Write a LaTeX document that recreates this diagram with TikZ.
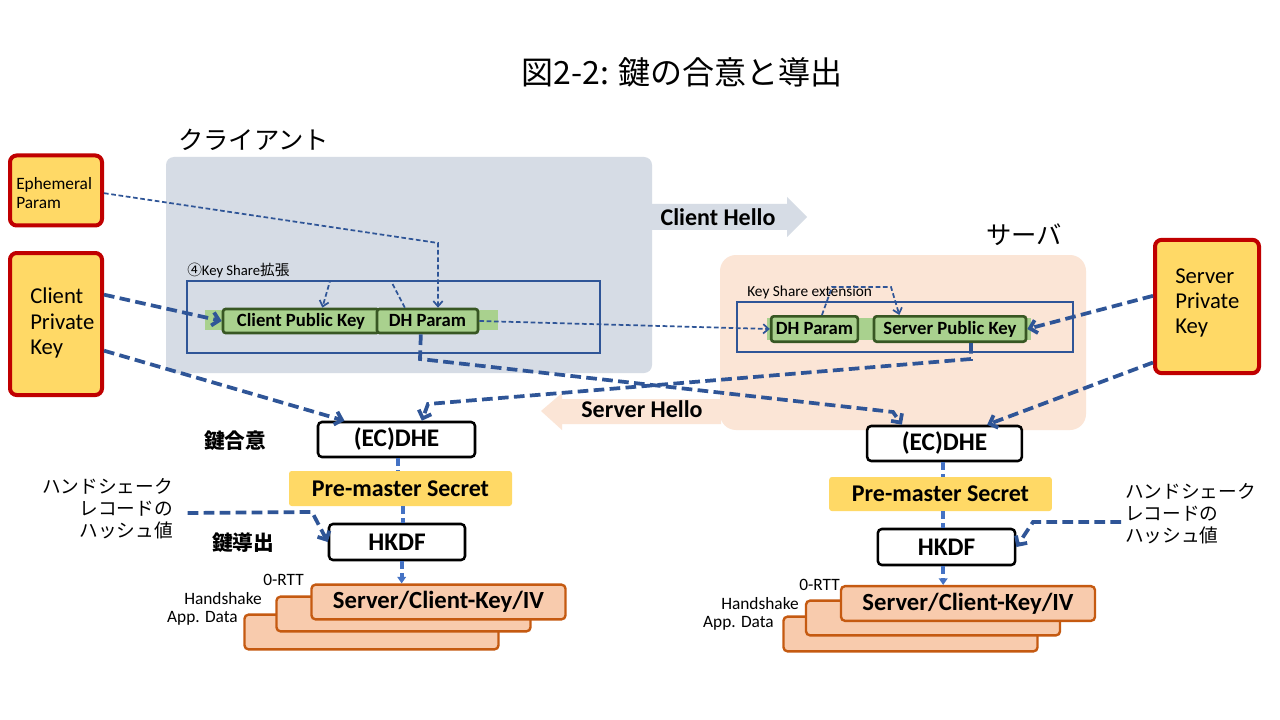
\documentclass[tikz,border=0pt]{standalone}
\usepackage{fontspec}
\setmainfont{Carlito}
\newfontfamily\jp{Noto Sans CJK JP}
\usetikzlibrary{arrows.meta}
\definecolor{kred}{HTML}{C00000}
\definecolor{kyellow}{HTML}{FFD966}
\definecolor{kblue}{HTML}{2F5597}
\definecolor{fblue}{HTML}{4472C4}
\definecolor{cbg}{HTML}{D6DCE5}
\definecolor{sbg}{HTML}{FBE5D6}
\definecolor{glight}{HTML}{A9D18E}
\definecolor{gdark}{HTML}{385723}
\definecolor{korange}{HTML}{C55A11}
\definecolor{kpeach}{HTML}{F8CBAD}
\newcommand{\fs}[2]{\fontsize{#1}{#2}\selectfont}
\tikzset{
  keybox/.style={draw=kred, fill=kyellow, line width=3pt, rounded corners=5pt, inner sep=0pt},
  opbox/.style={draw=black, fill=white, line width=1.9pt, rounded corners=3pt, inner sep=0pt, font=\bfseries\fs{19pt}{22pt}},
  pmsbox/.style={fill=kyellow, rounded corners=2pt, inner sep=0pt, font=\bfseries\fs{18pt}{21pt}},
  ivbox/.style={draw=korange, fill=kpeach, line width=1.8pt, rounded corners=3pt, inner sep=0pt, minimum width=190.5pt, minimum height=26pt, font=\bfseries\fs{18.5pt}{21pt}},
  gbox/.style={draw=gdark, fill=glight, line width=2pt, rounded corners=2pt, inner sep=0pt, font=\bfseries\fs{14pt}{16pt}},
  thickarr/.style={draw=kblue, line width=2.8pt, dash pattern=on 8pt off 4pt, -{Straight Barb[length=5pt,width=10pt]}},
  thinarr/.style={draw=kblue, line width=1.3pt, dash pattern=on 3.5pt off 2pt, -{Straight Barb[length=4pt,width=7pt]}},
  flow/.style={draw=fblue, line width=3pt, dash pattern=on 6pt off 3pt},
  flowarr/.style={flow, -{Triangle[length=5pt,width=6.5pt]}},
  txt/.style={inner sep=0pt},
}
\begin{document}
\begin{tikzpicture}[x=0.75pt,y=-0.75pt]
\useasboundingbox[fill=white] (0,0) rectangle (1280,720);

% title and section labels
\node[txt, font=\jp\fs{24pt}{28pt}] (title) at (682,72) {図2-2: 鍵の合意と導出};
\node[txt, anchor=west, font=\jp\fs{19pt}{22pt}] (clabel) at (178,140) {クライアント};
\node[txt, anchor=west, font=\jp\fs{19pt}{22pt}] (slabel) at (986,235) {サーバ};

% backgrounds
\fill[cbg, rounded corners=6pt] (166,157) rectangle (652,373);
\fill[sbg, rounded corners=12pt] (720,255) rectangle (1086,430);

% hello arrows
\fill[cbg] (652,204) -- (787,204) -- (787,197) -- (807,217) -- (787,237) -- (787,230) -- (652,230) -- cycle;
\node[txt, font=\bfseries\fs{18pt}{21pt}] (chello) at (718,217) {Client Hello};
\fill[sbg] (721,399) -- (562,399) -- (562,393) -- (541,411) -- (562,430) -- (562,424) -- (721,424) -- cycle;
\node[txt, font=\bfseries\fs{18pt}{21pt}] (shello) at (642,409) {Server Hello};

% key share boxes
\draw[kblue, line width=0.8pt] (187,281) rectangle (600,353);
\node[txt, anchor=west, font=\fs{11pt}{13pt}] (cks) at (187,270) {{\jp ④}Key Share{\jp 拡張}};
\fill[glight] (205,310) rectangle (498,330);
\node[gbox, minimum width=117pt, minimum height=18pt] (cpub) at (301,321) {Client Public Key};
\node[gbox, minimum width=75.75pt, minimum height=18pt] (cdh) at (427.5,321) {DH Param};

\draw[kblue, line width=0.8pt] (737,302) rectangle (1073,352);
\node[txt, anchor=west, font=\fs{11.5pt}{13pt}] (sks) at (747,292) {Key Share extension};
\fill[glight] (767,318) rectangle (1031,340);
\node[gbox, minimum width=65pt, minimum height=19pt] (sdh) at (814.5,329) {DH Param};
\node[gbox, minimum width=114pt, minimum height=19pt] (spub) at (950,329) {Server Public Key};

% private key boxes
\node[keybox, minimum width=69pt, minimum height=52.5pt] (eph) at (56,190.5) {};
\node[txt, anchor=west, align=left, font=\fs{13pt}{14.6pt}] (epht) at (16,193) {Ephemeral\\Param};
\node[keybox, minimum width=69pt, minimum height=106.5pt] (cpk) at (56,324) {};
\node[txt, anchor=west, align=left, font=\fs{17pt}{19pt}] (cpkt) at (30,323) {Client\\Private\\Key};
\node[keybox, minimum width=78pt, minimum height=100pt] (spk) at (1207,306.5) {};
\node[txt, anchor=west, align=left, font=\fs{17pt}{19pt}] (spkt) at (1175,303) {Server\\Private\\Key};

% left derivation column
\node[txt, font=\jp\bfseries\fs{15.5pt}{18pt}] (agree) at (235,441) {鍵合意};
\node[txt, font=\jp\bfseries\fs{15.5pt}{18pt}] (derive) at (243,543) {鍵導出};
\node[opbox, minimum width=117.75pt, minimum height=26.25pt] (lecdhe) at (396.5,439.5) {(EC)DHE};
\node[pmsbox, minimum width=167.25pt, minimum height=26.25pt] (lpms) at (400.5,488.5) {Pre-master Secret};
\node[opbox, minimum width=102pt, minimum height=27pt] (lhkdf) at (397,542) {HKDF};
\node[ivbox] (lkey3) at (371.5,632) {};
\node[ivbox] (lkey2) at (403.5,614) {};
\node[ivbox] (lkey1) at (438.5,602) {Server/Client-Key/IV};
\node[txt, anchor=east, font=\fs{13pt}{15pt}] (l0rtt) at (304,580) {0-RTT};
\node[txt, anchor=east, font=\fs{13pt}{15pt}] (lhs) at (262,599) {Handshake};
\node[txt, anchor=east, font=\fs{13pt}{15pt}] (lapp) at (238,618) {App. Data};
\node[txt, anchor=east, align=right, font=\jp\fs{14pt}{16.5pt}] (lhash) at (173,509) {ハンドシェーク\\レコードの\\ハッシュ値};

% right derivation column
\node[opbox, minimum width=116pt, minimum height=26.25pt] (recdhe) at (944.5,443.5) {(EC)DHE};
\node[pmsbox, minimum width=167pt, minimum height=25.5pt] (rpms) at (940.5,494) {Pre-master Secret};
\node[opbox, minimum width=103pt, minimum height=27pt] (rhkdf) at (946.5,547) {HKDF};
\node[ivbox] (rkey3) at (910.5,634) {};
\node[ivbox] (rkey2) at (933,618) {};
\node[ivbox] (rkey1) at (968,603.5) {Server/Client-Key/IV};
\node[txt, anchor=east, font=\fs{13pt}{15pt}] (r0rtt) at (840,585) {0-RTT};
\node[txt, anchor=east, font=\fs{13pt}{15pt}] (rhs) at (799,604) {Handshake};
\node[txt, anchor=east, font=\fs{13pt}{15pt}] (rapp) at (774,623) {App. Data};
\node[txt, anchor=west, align=left, font=\jp\fs{14pt}{16.5pt}] (rhash) at (1125,514) {ハンドシェーク\\レコードの\\ハッシュ値};

% bend coordinates
\coordinate (e1) at (438,243);
\coordinate (c1) at (391,281);
\coordinate (c2) at (330,281);
\coordinate (s1) at (832,287);
\coordinate (s2) at (891,287);
\coordinate (p1) at (971,359);
\coordinate (p2) at (428,404);
\coordinate (d1) at (420,359);
\coordinate (d2) at (893,412);
\coordinate (h1) at (312,512);
\coordinate (h2) at (1033,522);

% thin connectors
\draw[thinarr] ([yshift=-2pt]eph.east) -- (e1) -- (e1 |- cdh.north);
\draw[thinarr] ([xshift=-17pt]cdh.north) -- (c1) -- (c2) -- ([xshift=16pt]cpub.north);
\draw[thinarr] (cdh.east) -- (sdh.west);
\draw[thinarr] ([xshift=5.6pt]sdh.north) -- (s1) -- (s2) -- ([xshift=-38pt]spub.north);

% thick connectors
\draw[thickarr] ([yshift=22pt]cpk.east) -- (cpub.west);
\draw[thickarr] ([yshift=8pt]spk.west) -- (spub.east);
\draw[thickarr] ([yshift=-20pt]cpk.east) -- ([xshift=-39pt]lecdhe.north);
\draw[thickarr] ([xshift=15.75pt]spub.south) -- (p1) -- (p2) -- ([xshift=19pt]lecdhe.north);
\draw[thickarr] ([xshift=-5pt]cdh.south) -- (d1) -- (d2) -- ([xshift=-32pt]recdhe.north);
\draw[thickarr] ([yshift=-42pt]spk.west) -- ([xshift=32pt]recdhe.north);
\draw[thickarr] ([xshift=11pt,yshift=-3pt]lhash.east) -- (h1) -- (lhkdf.west);
\draw[thickarr] ([xshift=-3pt,yshift=-6pt]rhash.west) -- (h2) -- (rhkdf.east);

% derivation flows
\draw[flow] ([xshift=1pt]lecdhe.south) -- ([xshift=1pt]lecdhe.south |- lpms.north);
\draw[flow] ([xshift=2pt]lpms.south) -- ([xshift=2pt]lpms.south |- lhkdf.north);
\draw[flowarr] ([xshift=3.5pt]lhkdf.south) -- ([xshift=3.5pt]lhkdf.south |- lkey1.north);
\draw[flow] ([xshift=-1pt]recdhe.south) -- ([xshift=-1pt]recdhe.south |- rpms.north);
\draw[flow] ([xshift=2pt]rpms.south) -- ([xshift=2pt]rpms.south |- rhkdf.north);
\draw[flowarr] ([xshift=-2.5pt]rhkdf.south) -- ([xshift=-2.5pt]rhkdf.south |- rkey1.north);
\end{tikzpicture}
\end{document}
